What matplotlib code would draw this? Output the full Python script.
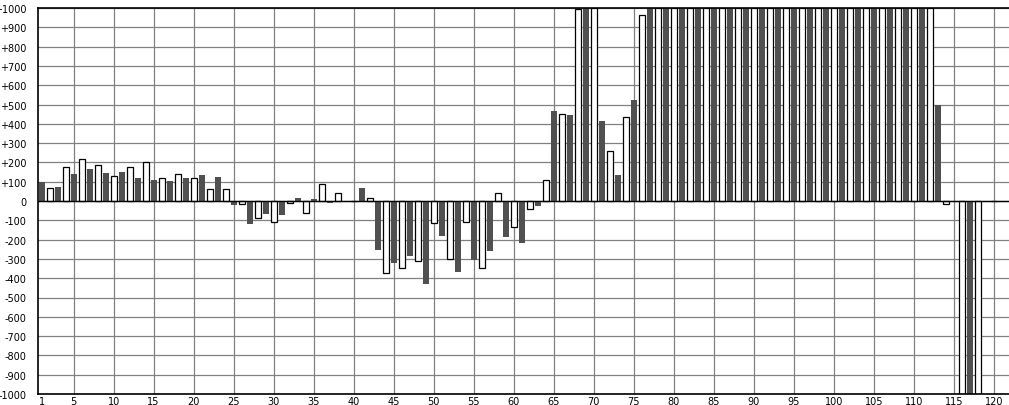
import matplotlib.pyplot as plt
import numpy as np

# bar values, one per index 1..120 (odd = dark, even = white)
positions = list(range(1, 121))
values = [
    100, 68, 70, 174, 139, 216, 165, 186, 144, 128,
    149, 174, 118, 200, 107, 118, 102, 139, 118, 121,
    133, 63, 123, 63, -23, -16, -118, -89, -65, -110,
    -75, -11, 18, -63, 12, 86, -12, 42, 0, 0,
    65, 16, -254, -374, -323, -349, -286, -311, -428, -116,
    -181, -300, -370, -111, -307, -349, -260, 42, -186, -133,
    -219, -39, -25, 109, 468, 453, 447, 995, 1000, 1000,
    416, 261, 137, 435, 521, 963, 1000, 1000, 1000, 1000,
    1000, 1000, 1000, 1000, 1000, 1000, 1000, 1000, 1000, 1000,
    1000, 1000, 1000, 1000, 1000, 1000, 1000, 1000, 1000, 1000,
    1000, 1000, 1000, 1000, 1000, 1000, 1000, 1000, 1000, 1000,
    1000, 1000, 500, -16, 0, -1000, -1000, -1000, 0, 0,
]
x_ticks = [5 * i for i in range(1, 25)]
y_ticks = list(range(-1000, 1001, 100))

x = np.array(positions)
v = np.array(values)
odd = x % 2 == 1

fig = plt.figure(figsize=(10.09, 4.06), dpi=100)
ax = fig.add_axes([38 / 1009, 11 / 406, 971 / 1009, 386 / 406])

ax.bar(x[odd], v[odd], width=0.75, color="#505050", linewidth=0, zorder=2)
ax.bar(x[~odd], v[~odd], width=0.75, color="white", edgecolor="black",
       linewidth=0.9, zorder=2)
ax.axhline(0, color="black", linewidth=1.0, zorder=3)

ax.set_xlim(0.55, 121.9)
ax.set_ylim(-1000, 1000)

ax.set_xticks(x_ticks)
ax.set_xticks([1], minor=True)
ax.set_xticklabels(["1"], minor=True)
ax.set_yticks(y_ticks)
ax.set_yticklabels([("+%d" % t) if t > 0 else str(t) for t in y_ticks])

ax.grid(True, which="major", color="#808080", linewidth=0.9, zorder=0)
ax.set_axisbelow(True)
ax.tick_params(which="both", length=0, labelsize=7, colors="black")
ax.tick_params(axis="y", pad=8)
ax.tick_params(axis="x", which="both", pad=1.5)

ax.spines["right"].set_visible(False)
for s in ["left", "top", "bottom"]:
    ax.spines[s].set_linewidth(1.2)
    ax.spines[s].set_color("black")

fig.savefig("out.png", dpi=100)
